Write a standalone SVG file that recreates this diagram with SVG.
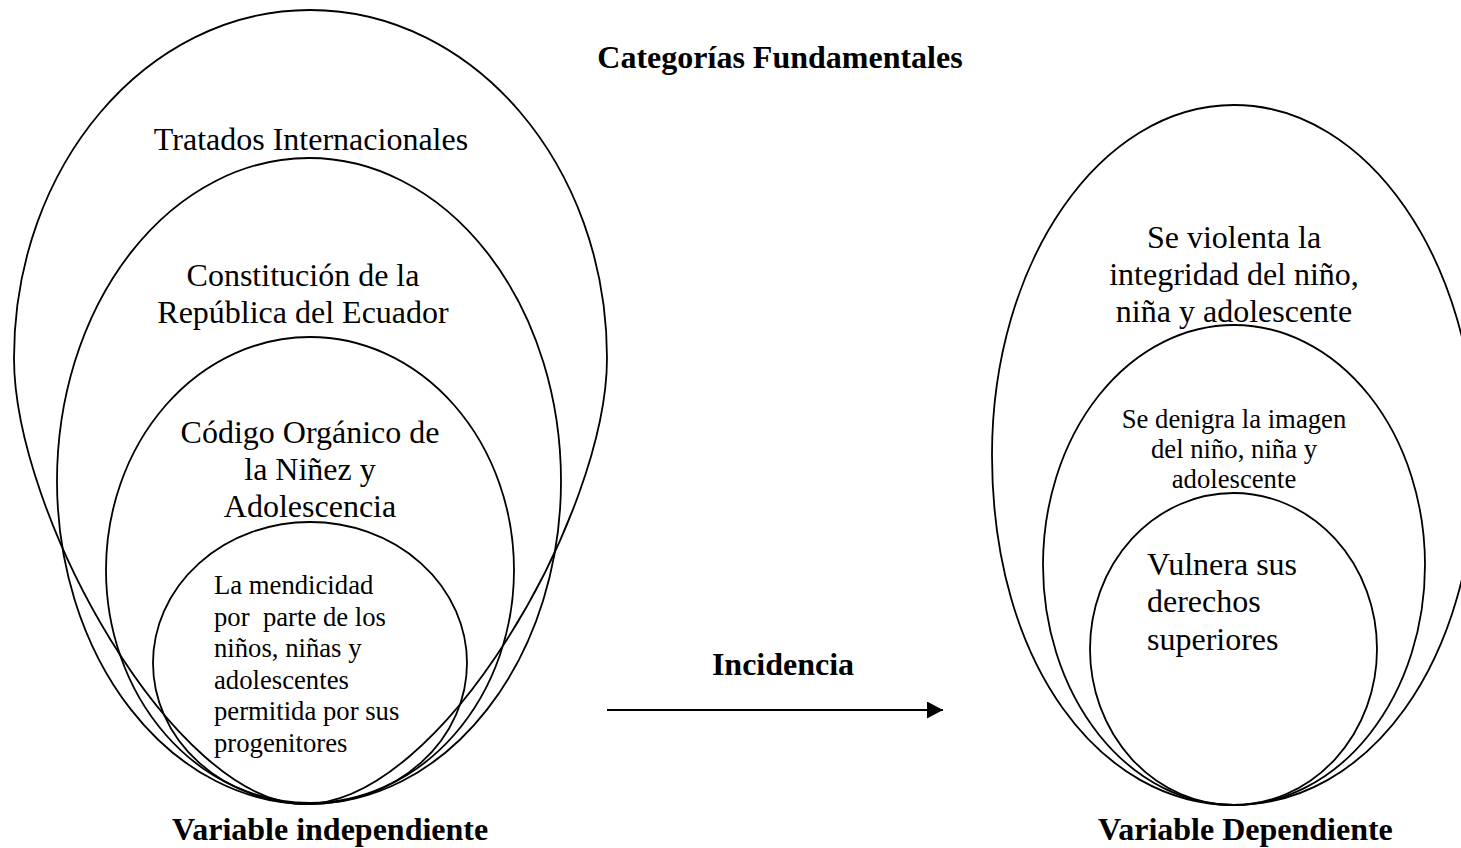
<svg xmlns="http://www.w3.org/2000/svg" width="1461" height="848" viewBox="0 0 1461 848">
<style>
.sh{fill:none;stroke:#000;stroke-width:1.8}
.t{font-family:"Liberation Serif","Times New Roman",serif;fill:#000}
.big{font-size:32px}
.sm{font-size:26.7px}
.b{font-weight:bold;font-size:32px}
.c{text-anchor:middle}
</style>
<defs>
<marker id="ah" markerWidth="8" markerHeight="8.5" refX="8" refY="4.25" orient="auto" markerUnits="strokeWidth">
<path d="M0,0 L8,4.25 L0,8.5 Z" fill="#000"/>
</marker>
</defs>
<rect width="1461" height="848" fill="#fff"/>
<text class="t b c" x="780" y="68">Categorías Fundamentales</text>
<g id="tratados">
<path class="sh" d="M14,358 C14,166 146.5,10 310,10 C474,10 607,166 607,358 C607,514 441,804 305,804 C174,804 14,514 14,358 Z"/>
<text class="t big c" x="311" y="150">Tratados Internacionales</text>
</g>
<g id="constitucion">
<ellipse class="sh" cx="309" cy="481" rx="252" ry="323"/>
<text class="t big c" x="303" y="286">Constitución de la</text>
<text class="t big c" x="303" y="323">República del Ecuador</text>
</g>
<g id="codigo">
<ellipse class="sh" cx="310" cy="570" rx="204" ry="233"/>
<text class="t big c" x="310" y="443">Código Orgánico de</text>
<text class="t big c" x="310" y="480">la Niñez y</text>
<text class="t big c" x="310" y="517">Adolescencia</text>
</g>
<g id="mendicidad">
<ellipse class="sh" cx="310" cy="663" rx="157" ry="141"/>
<text class="t sm" x="214" y="594">La mendicidad</text>
<text class="t sm" x="214" y="625.5" xml:space="preserve">por  parte de los</text>
<text class="t sm" x="214" y="657">niños, niñas y</text>
<text class="t sm" x="214" y="688.5">adolescentes</text>
<text class="t sm" x="214" y="720">permitida por sus</text>
<text class="t sm" x="214" y="751.5">progenitores</text>
</g>
<text class="t b" x="172" y="840">Variable independiente</text>
<g id="connectors">
<line x1="607" y1="710" x2="943" y2="710" stroke="#000" stroke-width="2" marker-end="url(#ah)"/>
<text class="t b c" x="783" y="675">Incidencia</text>
</g>
<g id="integridad">
<path class="sh" d="M992,455 C992,261.7 1100.3,105 1234,105 C1367.7,105 1476,261.7 1476,455 C1476,665 1367,805 1234,805 C1101,805 992,665 992,455 Z"/>
<text class="t big c" x="1234" y="248">Se violenta la</text>
<text class="t big c" x="1234" y="285">integridad del niño,</text>
<text class="t big c" x="1234" y="322">niña y adolescente</text>
</g>
<g id="imagen">
<ellipse class="sh" cx="1234" cy="565" rx="191" ry="240"/>
<text class="t sm c" x="1234" y="428">Se denigra la imagen</text>
<text class="t sm c" x="1234" y="458">del niño, niña y</text>
<text class="t sm c" x="1234" y="488">adolescente</text>
</g>
<g id="derechos">
<ellipse class="sh" cx="1233.5" cy="649" rx="143.5" ry="156"/>
<text class="t big" x="1147" y="575">Vulnera sus</text>
<text class="t big" x="1147" y="612">derechos</text>
<text class="t big" x="1147" y="650">superiores</text>
</g>
<text class="t b" x="1098" y="840">Variable Dependiente</text>
</svg>
